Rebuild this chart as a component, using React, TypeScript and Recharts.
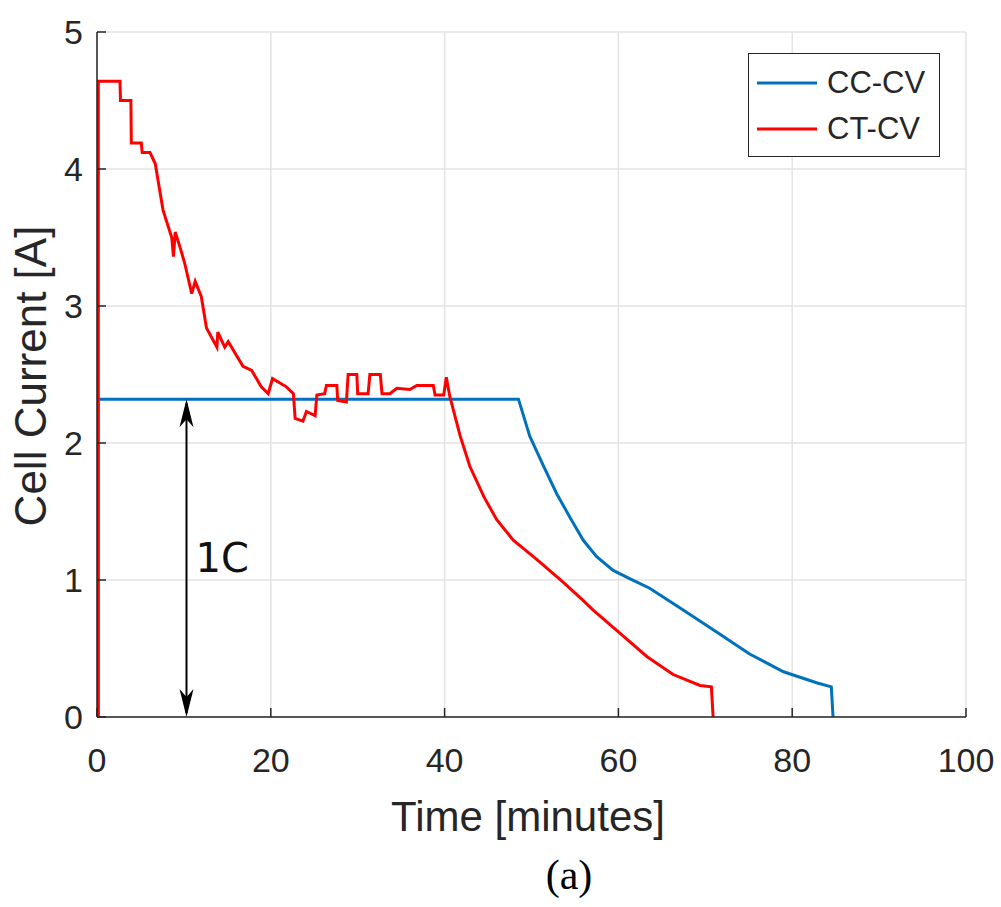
import React from "react";
import {
  LineChart,
  Line,
  XAxis,
  YAxis,
  CartesianGrid,
  Legend,
  ReferenceLine,
} from "recharts";

// CC-CV charge (blue)
const cccvTime = [
  0.1, 0.1, 48.5, 49.8, 51.4, 52.9, 54.4, 55.96, 57.5, 59.4, 61.3, 63.6, 67.5, 71.3, 75.1, 79.0, 82.8,
  84.5, 84.7,
];
const cccvCurrent = [
  0, 2.32, 2.32, 2.05, 1.83, 1.63, 1.46, 1.29, 1.17, 1.07, 1.01, 0.94, 0.78, 0.62, 0.46, 0.33, 0.25,
  0.22, 0,
];

// CT-CV charge (red)
const ctcvTime = [
  0.15, 0.15, 2.65, 2.7, 3.9, 3.95, 5.1, 5.2, 6.1, 6.7, 7.6, 8.6, 8.8, 9.0, 9.55, 10.1, 10.9, 11.3, 12.0,
  12.6, 13.8, 13.9, 14.7, 15.1, 16.8, 17.8, 18.9, 19.7, 20.2, 21.8, 22.6, 22.8, 23.7, 24.1, 25.1, 25.3,
  26.2, 26.4, 27.6, 27.7, 28.7, 28.9, 29.9, 30.0, 31.2, 31.4, 32.6, 32.8, 33.7, 34.5, 36.0, 36.8,
  38.7, 38.9, 39.9, 40.2, 40.6, 41.8, 42.9, 44.5, 46.0, 47.9, 50.6, 53.7, 55.96, 57.1, 60.2, 63.3,
  66.3, 69.4, 70.7, 70.9,
];
const ctcvCurrent = [
  0, 4.64, 4.64, 4.5, 4.5, 4.19, 4.19, 4.12, 4.12, 4.04, 3.7, 3.5, 3.36, 3.54, 3.43, 3.31, 3.09, 3.18, 3.07,
  2.84, 2.7, 2.81, 2.7, 2.74, 2.56, 2.53, 2.41, 2.36, 2.47, 2.41, 2.36, 2.18, 2.16, 2.23, 2.2, 2.35,
  2.36, 2.42, 2.42, 2.31, 2.3, 2.5, 2.5, 2.36, 2.36, 2.5, 2.5, 2.36, 2.36, 2.4, 2.39, 2.42,
  2.42, 2.35, 2.35, 2.48, 2.34, 2.05, 1.83, 1.61, 1.44, 1.29, 1.15, 0.98, 0.85, 0.78, 0.61, 0.44,
  0.31, 0.23, 0.22, 0,
];

const xTicks = [0, 20, 40, 60, 80, 100];
const yTicks = [0, 1, 2, 3, 4, 5];

// 1C marker: arrow at t = 10.3 min from 0 up to the 1C current
const oneCTime = 10.3;
const oneCCurrent = 2.32;

const cccvData = cccvTime.map((t, i) => ({ t, i: cccvCurrent[i] }));
const ctcvData = ctcvTime.map((t, i) => ({ t, i: ctcvCurrent[i] }));

const AXIS = "#262626";
const FONT = "'Liberation Sans', Arial, Helvetica, sans-serif";

const ArrowShape = (props: any) => {
  const { x1, y1, x2, y2 } = props;
  const x = x1;
  const top = Math.min(y1, y2);
  const bot = Math.max(y1, y2);
  const hl = 28;
  const hw = 7;
  return (
    <g>
      <line x1={x} y1={top + 4} x2={x} y2={bot - 4} stroke="#000" strokeWidth={2} />
      <polygon points={`${x},${top} ${x - hw},${top + hl} ${x},${top + hl - 8} ${x + hw},${top + hl}`} fill="#000" />
      <polygon points={`${x},${bot} ${x - hw},${bot - hl} ${x},${bot - hl + 8} ${x + hw},${bot - hl}`} fill="#000" />
      <text
        x={x + 9}
        y={(top + bot) / 2}
        dominantBaseline="central"
        fontFamily="'DejaVu Sans', Verdana, sans-serif"
        fontSize={40}
        fill="#111"
      >
        1C
      </text>
    </g>
  );
};

const renderLegend = (props: any) => {
  const { payload } = props;
  return (
    <div
      style={{
        boxSizing: "border-box",
        width: 192,
        height: 104,
        border: `1.5px solid ${AXIS}`,
        background: "#fff",
        padding: "6px 0 0 8px",
        fontFamily: FONT,
      }}
    >
      {(payload || []).map((entry: any) => (
        <div key={entry.value} style={{ display: "flex", alignItems: "center", height: 46 }}>
          <svg width={62} height={10}>
            <line x1={0} y1={5} x2={60} y2={5} stroke={entry.color} strokeWidth={3} />
          </svg>
          <span style={{ marginLeft: 8, fontSize: 31, color: AXIS, lineHeight: "46px" }}>{entry.value}</span>
        </div>
      ))}
    </div>
  );
};

export default function App() {
  return (
    <div style={{ position: "absolute", left: 0, top: 0, width: 1001, height: 907, background: "#fff" }}>
      <LineChart width={1001} height={907} margin={{ top: 32, right: 35, bottom: 130, left: 37 }}>
        <CartesianGrid stroke="#e3e3e3" strokeWidth={1.5} />
        <XAxis
          xAxisId={0}
          dataKey="t"
          type="number"
          domain={[0, 100]}
          ticks={xTicks}
          height={60}
          stroke={AXIS}
          strokeWidth={1.5}
          tickSize={-9}
          tickMargin={40}
          tick={{ fontSize: 34, fill: AXIS, fontFamily: FONT }}
          allowDataOverflow
        />
        <XAxis
          xAxisId="top"
          orientation="top"
          type="number"
          domain={[0, 100]}
          ticks={xTicks}
          height={0}
          stroke={AXIS}
          strokeWidth={1.5}
          tickSize={-9}
          tick={false}
        />
        <YAxis
          yAxisId={0}
          type="number"
          domain={[0, 5]}
          ticks={yTicks}
          width={60}
          stroke={AXIS}
          strokeWidth={1.5}
          tickSize={-9}
          tickMargin={23}
          tick={{ fontSize: 34, fill: AXIS, fontFamily: FONT }}
        />
        <YAxis
          yAxisId="right"
          orientation="right"
          type="number"
          domain={[0, 5]}
          ticks={yTicks}
          width={0}
          stroke={AXIS}
          strokeWidth={1.5}
          tickSize={-9}
          tick={false}
        />
        <Legend
          layout="vertical"
          align="center"
          verticalAlign="middle"
          content={renderLegend}
          wrapperStyle={{ left: 748, top: 53, width: 192, height: 104 }}
        />
        <Line
          data={cccvData}
          dataKey="i"
          name="CC-CV"
          type="linear"
          stroke="#0072BD"
          strokeWidth={3}
          dot={false}
          isAnimationActive={false}
        />
        <Line
          data={ctcvData}
          dataKey="i"
          name="CT-CV"
          type="linear"
          stroke="#FF0000"
          strokeWidth={3}
          dot={false}
          isAnimationActive={false}
        />
        <ReferenceLine
          segment={[
            { x: oneCTime, y: 0 },
            { x: oneCTime, y: oneCCurrent },
          ]}
          shape={ArrowShape}
        />
      </LineChart>
      <svg
        width={1001}
        height={907}
        style={{ position: "absolute", left: 0, top: 0, pointerEvents: "none" }}
      >
        <text
          x={46}
          y={376}
          transform="rotate(-90 46 376)"
          textAnchor="middle"
          fontFamily={FONT}
          fontSize={44}
          fill={AXIS}
        >
          Cell Current [A]
        </text>
        <text x={528} y={831} textAnchor="middle" fontFamily={FONT} fontSize={42} fill={AXIS}>
          Time [minutes]
        </text>
        <text x={569} y={889} textAnchor="middle" fontFamily="'Liberation Serif', 'Times New Roman', serif" fontSize={42} fill="#000">
          (a)
        </text>
      </svg>
    </div>
  );
}
